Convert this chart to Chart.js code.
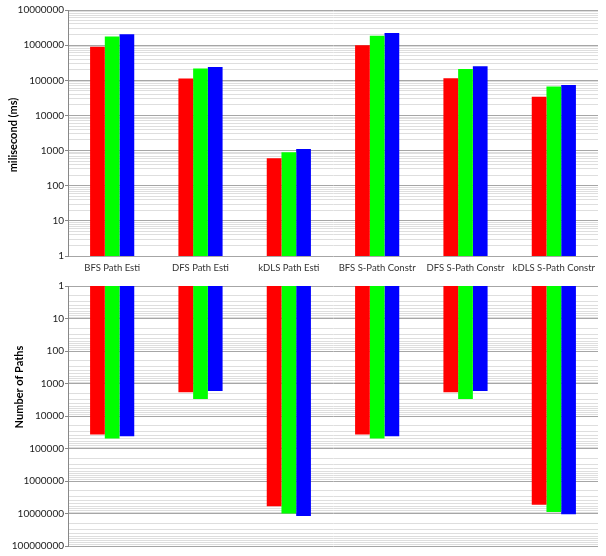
<!DOCTYPE html>
<html>
<head>
<meta charset="utf-8">
<script src="https://cdn.jsdelivr.net/npm/chart.js@4.4.1/dist/chart.umd.min.js"></script>
<style>
  body { margin: 0; background: #fff; }
  #wrap { position: relative; width: 606px; height: 556px; }
  canvas { position: absolute; left: 0; }
  #timeChart { top: 0; }
  #pathChart { top: 279px; }
</style>
</head>
<body>
<div id="wrap">
  <canvas id="timeChart" width="606" height="279"></canvas>
  <canvas id="pathChart" width="606" height="277"></canvas>
</div>
<script>
const categories = ['BFS Path Esti', 'DFS Path Esti', 'kDLS Path Esti', 'BFS S-Path Constr', 'DFS S-Path Constr', 'kDLS S-Path Constr'];

// upper panel: running time in ms
const timeRed   = [900000, 113000, 600, 1000000, 115000, 34000];
const timeGreen = [1750000, 215000, 900, 1850000, 210000, 67000];
const timeBlue  = [2050000, 238000, 1100, 2200000, 249000, 73000];

// lower panel: number of paths (axis runs downwards)
const pathRed   = [37000, 1850, 6000000, 37000, 1850, 5400000];
const pathGreen = [49000, 3000, 10000000, 49000, 3000, 9000000];
const pathBlue  = [42000, 1700, 12000000, 42000, 1700, 10500000];

const timeTicks = [1, 10, 100, 1000, 10000, 100000, 1000000, 10000000];
const pathTicks = [1, 10, 100, 1000, 10000, 100000, 1000000, 10000000, 100000000];

const FONT = 'Lato, "Liberation Sans", sans-serif';

// decades labelled, 2..9 in between as plain grid lines (Excel style)
function logTicks(decades) {
    const out = [];
    decades.forEach((d, i) => {
        out.push({ value: d, major: true });
        if (i < decades.length - 1) {
            for (let k = 2; k < 10; k++) out.push({ value: d * k, major: false });
        }
    });
    return out;
}

function yAxis(decades, reverse) {
    return {
        type: 'logarithmic',
        min: decades[0],
        max: decades[decades.length - 1],
        reverse: reverse,
        afterBuildTicks: s => { s.ticks = logTicks(decades); },
        afterFit: s => { s.width = 68; },
        ticks: {
            autoSkip: false,
            padding: 1,
            color: '#222',
            font: { family: FONT, size: 10 },
            callback: (v, i, t) => t[i].major ? String(v) : ''
        },
        grid: {
            color: c => c.tick && c.tick.major ? '#a6a6a6' : '#dedede',
            tickColor: c => c.tick && c.tick.major ? '#888' : 'rgba(0,0,0,0)',
            tickLength: 3
        },
        border: { color: '#888' }
    };
}

const sideTitle = {
    id: 'sideTitle',
    afterDraw(chart, args, opts) {
        const c = chart.ctx;
        c.save();
        c.translate(opts.x, opts.y);
        c.rotate(-Math.PI / 2);
        c.font = 'bold 11px ' + FONT;
        c.fillStyle = '#000';
        c.textAlign = 'center';
        c.textBaseline = 'middle';
        c.fillText(opts.text, 0, 0);
        c.restore();
    }
};

function bars(red, green, blue) {
    const common = { borderWidth: 0, barPercentage: 1.0, categoryPercentage: 0.5 };
    return [
        Object.assign({ label: 'red', data: red, backgroundColor: '#ff0000' }, common),
        Object.assign({ label: 'green', data: green, backgroundColor: '#00ff00' }, common),
        Object.assign({ label: 'blue', data: blue, backgroundColor: '#0000ff' }, common)
    ];
}

new Chart(document.getElementById('timeChart'), {
    type: 'bar',
    data: { labels: categories, datasets: bars(timeRed, timeGreen, timeBlue) },
    options: {
        responsive: false,
        animation: false,
        layout: { padding: { top: 10, right: 8, left: 0, bottom: 0 } },
        scales: {
            x: {
                afterFit: s => { s.height = 23; },
                grid: { display: false },
                border: { display: false },
                ticks: { autoSkip: false, padding: -2, color: '#333', font: { family: FONT, size: 9.5 }, maxRotation: 0 }
            },
            y: yAxis(timeTicks, false)
        },
        plugins: {
            legend: { display: false },
            tooltip: { enabled: false },
            sideTitle: { text: 'milisecond (ms)', x: 13, y: 135 }
        }
    },
    plugins: [sideTitle]
});

new Chart(document.getElementById('pathChart'), {
    type: 'bar',
    data: { labels: categories, datasets: bars(pathRed, pathGreen, pathBlue) },
    options: {
        responsive: false,
        animation: false,
        layout: { padding: { top: 6, right: 8, left: 0, bottom: 10 } },
        scales: {
            x: { display: false },
            y: yAxis(pathTicks, true)
        },
        plugins: {
            legend: { display: false },
            tooltip: { enabled: false },
            sideTitle: { text: 'Number of Paths', x: 19, y: 108 }
        }
    },
    plugins: [sideTitle]
});
</script>
</body>
</html>
